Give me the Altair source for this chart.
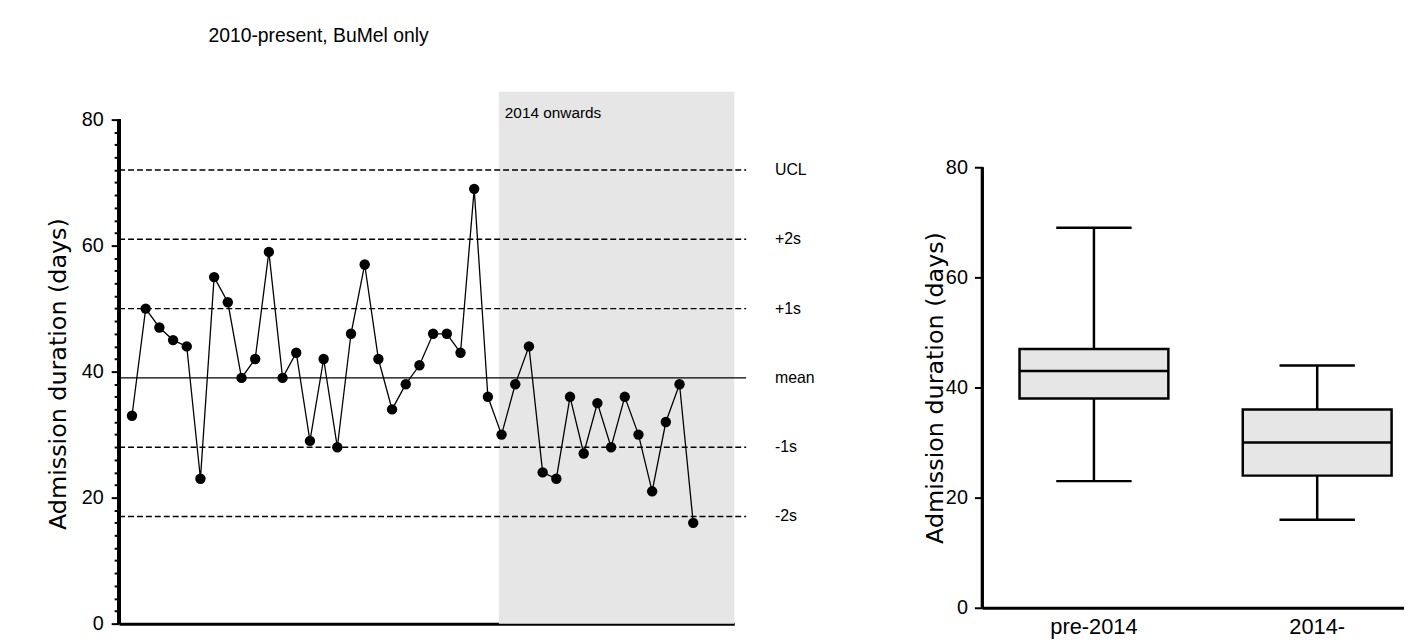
import altair as alt
import pandas as pd

TITLE = "2010-present, BuMel only"
Y_TITLE = "Admission duration (days)"

# Admission durations (days), consecutive patients
durations = [33, 50, 47, 45, 44, 23, 55, 51, 39, 42, 59, 39, 43, 29, 42, 28, 46, 57, 42, 34, 38,
             41, 46, 46, 43, 69, 36, 30, 38, 44, 24, 23, 36, 27, 35, 28, 36, 30, 21, 32, 38, 16]
sample_index = list(range(1, len(durations) + 1))

# Control limits
limit_labels = ["UCL", "+2s", "+1s", "mean", "-1s", "-2s"]
limit_values = [72, 61, 50, 39, 28, 17]
limit_solid = [False, False, False, True, False, False]

# Shaded period
shade_label = "2014 onwards"
shade_from = [27.8]
shade_to = [45.0]

# Box plot summaries
groups = ["pre-2014", "2014-"]
box_min = [23, 16]
box_q1 = [38, 24]
box_median = [43, 30]
box_q3 = [47, 36]
box_max = [69, 44]

FONT = "Liberation Sans"
TITLE_FONT = "DejaVu Sans"
GREY = "#e6e6e6"

run_df = pd.DataFrame({"i": sample_index, "v": durations})
lim_df = pd.DataFrame({"label": limit_labels, "v": limit_values, "solid": limit_solid})
shade_df = pd.DataFrame({"i": shade_from, "i2": shade_to, "label": [shade_label]})
box_df = pd.DataFrame({"g": groups, "lo": box_min, "q1": box_q1, "med": box_median,
                       "q3": box_q3, "hi": box_max})

LW, LH = 620, 536
x_scale_l = alt.Scale(domain=[0.06, 45], nice=False, zero=False)
x_axis_l = alt.Axis(title=None, labels=False, ticks=False, grid=False,
                    domainWidth=3, domainColor="black")
y_scale_l = alt.Scale(domain=[0, 84.4], nice=False, zero=True)
y_axis_l = alt.Axis(values=list(range(0, 81, 2)),
                    labelExpr="datum.value % 20 === 0 ? datum.label : ''",
                    labelOverlap=False, labelBound=False, labelFlush=False,
                    tickSize={"condition": {"test": "datum.value % 20 === 0", "value": 8}, "value": 5},
                    tickWidth=2, tickColor="black", domain=False, grid=False,
                    labelFontSize=20, labelPadding=8, labelColor="black",
                    title=Y_TITLE, titleFont=TITLE_FONT, titleFontSize=24,
                    titleFontWeight="normal", titleColor="black",
                    titleX=-61, titleY=284, titleBaseline="middle")

X = lambda f: alt.X(f, scale=x_scale_l, axis=x_axis_l)
Y = lambda f: alt.Y(f, scale=y_scale_l, axis=y_axis_l)

base_l = alt.Chart(run_df)

shade = alt.Chart(shade_df).mark_rect(color=GREY).encode(
    x=X("i:Q"), x2="i2:Q", y=alt.value(0), y2=alt.value(LH))
shade_text = alt.Chart(shade_df).mark_text(align="left", baseline="middle", fontSize=15.5,
                                           dx=6, color="black").encode(
    x=X("i:Q"), y=alt.value(21), text="label:N")

dashed = alt.Chart(lim_df).transform_filter("!datum.solid").mark_rule(
    color="black", strokeWidth=1.4, strokeDash=[6, 3], clip=False).encode(
    x=alt.value(0), x2=alt.value(632), y=Y("v:Q"))
solid = alt.Chart(lim_df).transform_filter("datum.solid").mark_rule(
    color="black", strokeWidth=1.3, clip=False).encode(
    x=alt.value(0), x2=alt.value(632), y=Y("v:Q"))
lim_text = alt.Chart(lim_df).mark_text(align="left", baseline="middle", fontSize=16,
                                       color="black", clip=False).encode(
    x=alt.value(661), y=Y("v:Q"), text="label:N")

line = base_l.mark_line(color="black", strokeWidth=1.3).encode(x=X("i:Q"), y=Y("v:Q"))
pts = base_l.mark_circle(size=110, color="black", opacity=1).encode(x=X("i:Q"), y=Y("v:Q"))

yrule_l = base_l.mark_rule(color="black", strokeWidth=3).encode(
    x=alt.value(0),
    y=alt.YDatum(0, scale=y_scale_l, axis=y_axis_l),
    y2=alt.Y2Datum(80))

left = alt.layer(shade, shade_text, dashed, solid, lim_text, line, pts, yrule_l).properties(
    width=LW, height=LH)

# ---------- right: box plot ----------
RW, RH = 450, 520
x_r = alt.X("g:N", sort=groups, scale=alt.Scale(paddingInner=0, paddingOuter=0),
            axis=alt.Axis(title=None, labelAngle=0, labelFontSize=22, labelPadding=9,
                          ticks=False, domainWidth=3, domainColor="black", labelColor="black"))
y_scale_r = alt.Scale(domain=[0, 93.7], nice=False, zero=True)
y_axis_r = alt.Axis(values=[0, 20, 40, 60, 80], tickSize=8, tickWidth=2, tickColor="black",
                    domain=False, grid=False, labelFontSize=20, labelPadding=7,
                    labelOverlap=False, labelColor="black", title=Y_TITLE,
                    titleFont=TITLE_FONT, titleFontSize=24,
                    titleFontWeight="normal", titleColor="black",
                    titleX=-47, titleY=298, titleBaseline="middle")
YR = lambda f: alt.Y(f, scale=y_scale_r, axis=y_axis_r)

base_r = alt.Chart(box_df)
wh_lo = base_r.mark_rule(color="black", strokeWidth=2.5).encode(x=x_r, y=YR("lo:Q"), y2="q1:Q")
wh_hi = base_r.mark_rule(color="black", strokeWidth=2.5).encode(x=x_r, y=YR("q3:Q"), y2="hi:Q")
box = base_r.mark_bar(size=150, fill=GREY, stroke="black", strokeWidth=2.5).encode(
    x=x_r, y=YR("q1:Q"), y2="q3:Q")
med = base_r.mark_tick(size=150, thickness=2.5, color="black", opacity=1).encode(
    x=x_r, y=YR("med:Q"))
cap_lo = base_r.mark_tick(size=76, thickness=2.5, color="black", opacity=1).encode(
    x=x_r, y=YR("lo:Q"))
cap_hi = base_r.mark_tick(size=76, thickness=2.5, color="black", opacity=1).encode(
    x=x_r, y=YR("hi:Q"))
yrule_r = base_r.mark_rule(color="black", strokeWidth=3).encode(
    x=alt.value(0),
    y=alt.YDatum(0, scale=y_scale_r, axis=y_axis_r),
    y2=alt.Y2Datum(80))

right = alt.layer(wh_lo, wh_hi, box, med, cap_lo, cap_hi, yrule_r).properties(width=RW, height=RH)

chart = alt.hconcat(left, right, spacing=109).properties(
    title=alt.Title(TITLE, anchor="start", dx=163, fontSize=19.5, font=FONT,
                    fontWeight="normal", color="black", offset=46),
    padding={"left": 39, "top": 15, "right": -25, "bottom": 2},
).configure(font=FONT).configure_view(strokeWidth=0, stroke="transparent")

chart.save("out.html", embed_options={"renderer": "svg", "actions": False})
